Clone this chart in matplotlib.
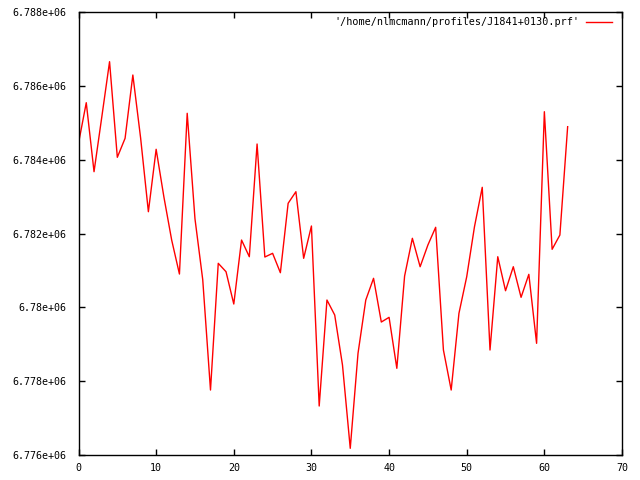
import matplotlib
matplotlib.use("Agg")
import matplotlib.pyplot as plt
from matplotlib.ticker import FuncFormatter, MultipleLocator

x = list(range(64))
y = [6784443, 6785543, 6783674, 6785156, 6786654, 6784064, 6784579, 6786293,
     6784587, 6782590, 6784281, 6782988, 6781823, 6780902, 6785256, 6782401,
     6780750, 6777760, 6781192, 6780965, 6780090, 6781823, 6781371, 6784424,
     6781363, 6781463, 6780938, 6782818, 6783132, 6781328, 6782203, 6777327,
     6780198, 6779792, 6778437, 6776181, 6778754, 6780198, 6780786, 6779602,
     6779729, 6778348, 6780848, 6781870, 6781100, 6781688, 6782168, 6778844,
     6777760, 6779838, 6780829, 6782184, 6783251, 6778844, 6781371, 6780450,
     6781100, 6780271, 6780894, 6779025, 6785299, 6781572, 6781959, 6784893]
label = "'/home/nlmcmann/profiles/J1841+0130.prf'"

plt.rcParams['font.family'] = ['DejaVu Sans Mono']
fig = plt.figure(figsize=(6.4, 4.8), dpi=100)
ax = fig.add_axes([78.5/640, 1-455/480, (622-78.5)/640, (455-12)/480])
ax.plot(x, y, color='#ff0000', lw=1, label=label)
ax.set_xlim(0, 70)
ax.set_ylim(6776000, 6788000)
ax.xaxis.set_major_locator(MultipleLocator(10))
ax.yaxis.set_major_locator(MultipleLocator(2000))
fmt = FuncFormatter(lambda v, p: '%g' % v)
ax.xaxis.set_major_formatter(fmt)
ax.yaxis.set_major_formatter(fmt)
ax.tick_params(direction='in', length=4, width=1, top=True, right=True,
               labelsize=7.2, color='black')
ax.tick_params(axis='y', pad=9)
ax.tick_params(axis='x', pad=6)
for s in ax.spines.values():
    s.set_linewidth(1)
leg = ax.legend(loc='upper right', bbox_to_anchor=(0.989, 0.997), borderaxespad=0,
                frameon=False, markerfirst=False,
                fontsize=7.3, handlelength=2.6, handletextpad=0.6)
fig.savefig('out.png', dpi=100)
